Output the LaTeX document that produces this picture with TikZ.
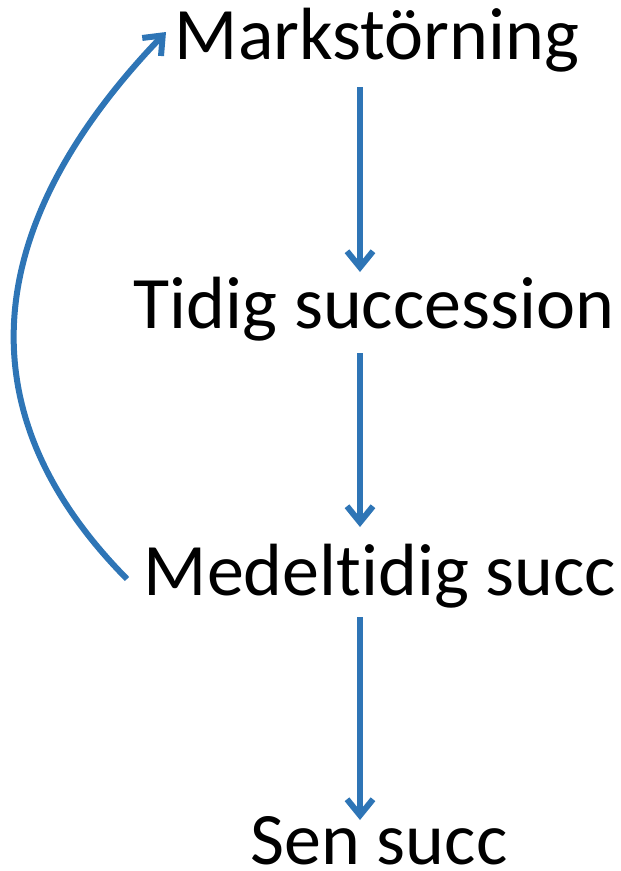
\documentclass[tikz,border=0pt]{standalone}
\usepackage{fontspec}
\setmainfont{Carlito}[Ligatures=NoCommon]
\usetikzlibrary{arrows.meta}
\definecolor{pilblue}{HTML}{2E75B6}
\tikzset{
  stage/.style={font=\fontsize{74}{80}\selectfont, inner sep=0pt, anchor=base},
  pil/.style={pilblue, line width=6pt, -{Straight Barb[length=16pt,width=26pt,line width=6pt]}}
}
\begin{document}
\begin{tikzpicture}[x=1pt,y=-1pt]  % ------ succession ---------------
    \useasboundingbox (0,0) rectangle (621,871);
    \node[stage] (mark)  at (377,59)  {Markstörning};
    \node[stage] (tidig) at (374,328) {Tidig succession};
    \node[stage] (medel) at (380,595) {Medeltidig succ};
    \node[stage] (sen)   at (379,864) {Sen succ};

    \coordinate (loopstart) at (127,579);
    \coordinate (loopend)   at (166,32);

    \draw[pil] ([shift={(-17,28)}]mark.base)  -- ([shift={(-14,-56)}]tidig.base);
    \draw[pil] ([shift={(-14,25)}]tidig.base) -- ([shift={(-20,-68)}]medel.base);
    \draw[pil] ([shift={(-20,22)}]medel.base) -- ([shift={(-19,-44)}]sen.base);
    \draw[pil] (loopstart) .. controls (-50,400) and (-5,210) .. (loopend);
\end{tikzpicture}
\end{document}
